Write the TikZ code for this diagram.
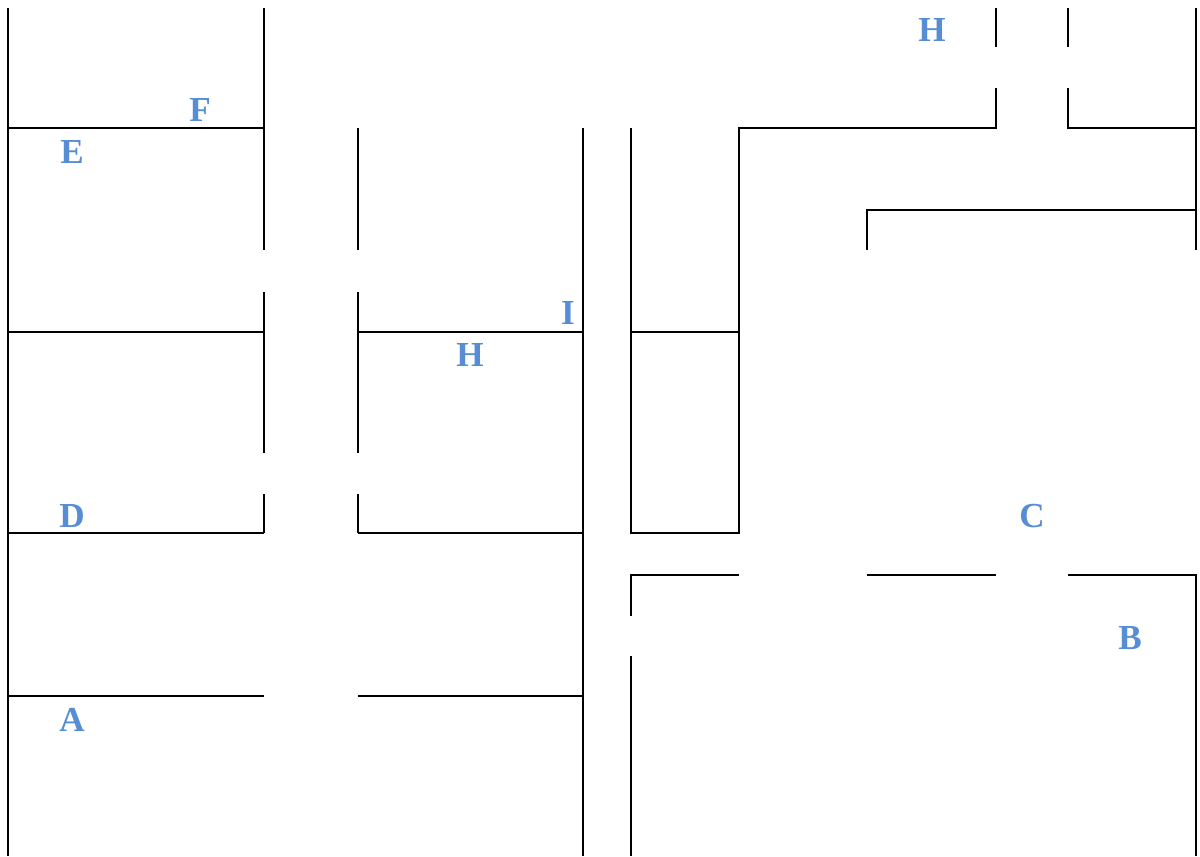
\documentclass[tikz,border=0pt]{standalone}
\usepackage{fontspec}
\setmainfont{Liberation Serif}
\usepackage{tikz}
\definecolor{roomblue}{RGB}{86,141,212}

\begin{document}
\begin{tikzpicture}[x=0.02cm,y=-0.02cm,line width=0.6pt]
  \tikzstyle{room}=[text=roomblue,font=\fontsize{20}{24}\selectfont\bfseries,inner sep=0pt]
  \useasboundingbox (0,0) rectangle (1200,856);

  % left block
  \draw (8,8) -- (8,856);
  \draw (264,8) -- (264,250) (264,292) -- (264,453) (264,494) -- (264,533);
  \draw (358,128) -- (358,250) (358,292) -- (358,453) (358,494) -- (358,533);
  \draw (8,128) -- (264,128);
  \draw (8,332) -- (264,332) (358,332) -- (583,332);
  \draw (8,533) -- (264,533) (358,533) -- (583,533);
  \draw (8,696) -- (264,696) (358,696) -- (583,696);
  \draw (583,128) -- (583,856);

  % right block
  \draw (631,128) -- (631,533) -- (739,533) -- (739,128) -- (996,128) -- (996,88);
  \draw (996,8) -- (996,47) (1068,8) -- (1068,47);
  \draw (1068,88) -- (1068,128) -- (1196,128);
  \draw (1196,8) -- (1196,250);
  \draw (867,250) -- (867,210) -- (1196,210);
  \draw (631,332) -- (739,332);
  \draw (631,616) -- (631,575) -- (739,575) (867,575) -- (996,575);
  \draw (1068,575) -- (1196,575) -- (1196,856);
  \draw (631,656) -- (631,856);

  % labels
  \node[room] (F)  at (200,110) {F};
  \node[room] (E)  at (72,152)  {E};
  \node[room] (H1) at (932,30)  {H};
  \node[room] (I)  at (568,313) {I};
  \node[room] (H2) at (470,355) {H};
  \node[room] (D)  at (72,516)  {D};
  \node[room] (C)  at (1032,516) {C};
  \node[room] (B)  at (1130,638) {B};
  \node[room] (A)  at (72,720)  {A};
\end{tikzpicture}
\end{document}
